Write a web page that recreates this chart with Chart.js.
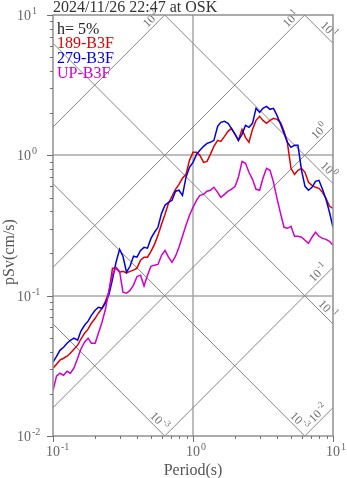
<!DOCTYPE html>
<html>
<head>
<meta charset="utf-8">
<script src="https://cdn.jsdelivr.net/npm/chart.js@4.4.0/dist/chart.umd.min.js"></script>
<style>
  html, body { margin: 0; padding: 0; background: #fff; }
  canvas { display: block; }
</style>
</head>
<body>
<canvas id="spectrumChart" width="347" height="478"></canvas>
<script>
// periods (s) and pseudo velocity response (cm/s), h = 5%
const periods = [0.1,0.106,0.112,0.119,0.126,0.133,0.141,0.15,0.158,0.168,0.178,0.188,0.2,0.211,0.224,0.237,0.251,0.266,0.282,0.299,
  0.316,0.335,0.355,0.376,0.398,0.422,0.447,0.473,0.501,0.531,0.562,0.596,0.631,0.668,0.708,0.75,0.794,0.841,0.891,0.944,
  1.0,1.06,1.12,1.19,1.26,1.33,1.41,1.5,1.58,1.68,1.78,1.88,2.0,2.11,2.24,2.37,2.51,2.66,2.82,2.99,
  3.16,3.35,3.55,3.76,3.98,4.22,4.47,4.73,5.01,5.31,5.62,5.96,6.31,6.68,7.08,7.5,7.94,8.41,8.91,9.44,10];

const sv189 = [0.0304,0.0325,0.0347,0.0358,0.0370,0.0389,0.0415,0.0444,0.0489,0.0540,
  0.0577,0.0636,0.0690,0.0750,0.0813,0.0912,0.106,0.157,0.157,0.147,
  0.149,0.145,0.149,0.152,0.157,0.179,0.188,0.188,0.207,0.232,
  0.269,0.323,0.380,0.455,0.511,0.573,0.621,0.686,0.732,0.921,
  1.050,1.050,1.000,0.891,0.906,1.016,1.159,1.279,1.258,1.366,
  1.482,1.557,1.411,1.279,1.531,1.343,1.238,1.531,1.775,1.896,
  1.775,1.690,1.775,1.834,1.805,1.718,1.482,1.218,0.808,0.732,
  0.782,0.808,0.757,0.642,0.611,0.592,0.582,0.545,0.494,0.433,0.419];

const sv279 = [0.0336,0.0370,0.0408,0.0429,0.0458,0.0481,0.0498,0.0481,0.0557,0.0615,
  0.0658,0.0724,0.0787,0.0826,0.0813,0.0883,0.102,0.131,0.173,0.214,
  0.191,0.147,0.162,0.191,0.188,0.210,0.221,0.218,0.256,0.283,
  0.307,0.386,0.441,0.462,0.478,0.555,0.564,0.519,0.697,0.821,
  0.891,1.016,1.086,1.159,1.218,1.238,1.279,1.609,1.718,1.746,
  1.690,1.557,1.411,1.279,1.411,1.636,1.583,1.690,2.162,2.024,
  2.162,2.234,2.127,2.162,1.927,1.663,1.434,1.238,1.140,1.178,
  1.178,0.782,0.601,0.564,0.592,0.653,0.664,0.573,0.486,0.393,0.307];

const svUP = [0.0212,0.0267,0.0280,0.0271,0.0289,0.0280,0.0304,0.0358,0.0415,0.0466,
  0.0498,0.0458,0.0458,0.0540,0.0647,0.0800,0.109,0.142,0.159,0.149,
  0.106,0.104,0.109,0.119,0.137,0.140,0.117,0.140,0.162,0.165,
  0.167,0.194,0.210,0.188,0.173,0.191,0.221,0.265,0.317,0.374,
  0.426,0.478,0.519,0.527,0.555,0.564,0.592,0.545,0.502,0.527,
  0.555,0.573,0.601,0.697,0.906,0.877,0.757,0.675,0.573,0.564,
  0.686,0.808,0.782,0.642,0.494,0.386,0.307,0.302,0.312,0.265,
  0.265,0.261,0.248,0.236,0.261,0.283,0.265,0.256,0.252,0.244,0.229];

const seriesNames = ["189-B3F", "279-B3F", "UP-B3F"];
const seriesColors = ["#e00000", "#0000e0", "#d000d0"];

// tripartite guide lines: constant acceleration (cm/s2) and displacement (cm)
const accelLines = [100, 10, 1, 0.1, 0.01];
const accelLabels = ["2", "1", "0", "-1", "-2"];
const dispLines = [10, 1, 0.1, 0.01, 0.001];
const dispLabels = ["1", "0", "-1", "-3", "-3"];

const xTickVals = [0.1, 1, 10];
const xTickExp = ["-1", "0", "1"];
const yTickVals = [0.01, 0.1, 1, 10];
const yTickExp = ["-2", "-1", "0", "1"];

const titleText = "2024/11/26 22:47 at OSK";
const dampText = "h= 5%";

const SERIF = '"Liberation Serif", "Times New Roman", serif';
const TWO_PI = 2 * Math.PI;

function pow10Label(ctx, exp, x, y, size, mode) {
  ctx.font = size + "px " + SERIF;
  const wb = ctx.measureText("10").width;
  const es = Math.round(size * 0.72);
  ctx.font = es + "px " + SERIF;
  const we = ctx.measureText(exp).width;
  let x0 = x;
  if (mode === "center") x0 = x - wb / 2;
  if (mode === "right") x0 = x - wb - we - 1;
  ctx.textAlign = "left";
  ctx.font = size + "px " + SERIF;
  ctx.fillText("10", x0, y);
  ctx.font = es + "px " + SERIF;
  ctx.fillText(exp, x0 + wb + 1, y - size * 0.42);
}

const tripartite = {
  id: "tripartite",
  beforeDatasetsDraw(chart) {
    const { ctx, chartArea: a, scales: { x, y } } = chart;
    ctx.save();
    ctx.beginPath();
    ctx.rect(a.left, a.top, a.right - a.left, a.bottom - a.top);
    ctx.clip();

    // grid at decades
    ctx.strokeStyle = "#a8a8a8";
    ctx.lineWidth = 1.5;
    ctx.beginPath();
    ctx.moveTo(Math.round(x.getPixelForValue(1)), a.top);
    ctx.lineTo(Math.round(x.getPixelForValue(1)), a.bottom);
    [1, 0.1].forEach(v => {
      const py = Math.round(y.getPixelForValue(v));
      ctx.moveTo(a.left, py);
      ctx.lineTo(a.right, py);
    });
    ctx.stroke();

    // diagonal lines
    ctx.strokeStyle = "#858585";
    ctx.lineWidth = 1;
    ctx.beginPath();
    accelLines.forEach(sa => {
      ctx.moveTo(x.getPixelForValue(0.1), y.getPixelForValue(sa * 0.1 / TWO_PI));
      ctx.lineTo(x.getPixelForValue(10), y.getPixelForValue(sa * 10 / TWO_PI));
    });
    dispLines.forEach(sd => {
      ctx.moveTo(x.getPixelForValue(0.1), y.getPixelForValue(TWO_PI * sd / 0.1));
      ctx.lineTo(x.getPixelForValue(10), y.getPixelForValue(TWO_PI * sd / 10));
    });
    ctx.stroke();
    ctx.restore();

    // labels of diagonal lines, near where each line leaves the frame
    ctx.save();
    ctx.fillStyle = "#707070";
    ctx.textBaseline = "alphabetic";
    accelLines.forEach((sa, i) => {
      const tEnd = Math.min(10, TWO_PI * 10 / sa);
      const ex = x.getPixelForValue(tEnd);
      const ey = y.getPixelForValue(sa * tEnd / TWO_PI);
      ctx.save();
      ctx.translate(ex, ey);
      ctx.rotate(-Math.PI / 4);
      pow10Label(ctx, accelLabels[i], -4, -3, 12, "right");
      ctx.restore();
    });
    dispLines.forEach((sd, i) => {
      const tEnd = Math.min(10, TWO_PI * sd / 0.01);
      const ex = x.getPixelForValue(tEnd);
      const ey = y.getPixelForValue(TWO_PI * sd / tEnd);
      ctx.save();
      ctx.translate(ex, ey);
      ctx.rotate(Math.PI / 4);
      pow10Label(ctx, dispLabels[i], -4, -3, 12, "right");
      ctx.restore();
    });
    ctx.restore();
  },
  afterDatasetsDraw(chart) {
    const { ctx, chartArea: a, scales: { x, y } } = chart;
    ctx.save();
    // frame
    ctx.strokeStyle = "#909090";
    ctx.lineWidth = 1.5;
    ctx.strokeRect(a.left, a.top, a.right - a.left, a.bottom - a.top);

    // ticks (outside)
    ctx.lineWidth = 1;
    ctx.strokeStyle = "#707070";
    ctx.beginPath();
    [-2, -1, 0].forEach(d => {
      for (let m = 1; m <= 9; m++) {
        const py = Math.round(y.getPixelForValue(m * Math.pow(10, d))) + 0.5;
        ctx.moveTo(a.left - (m === 1 ? 6 : 3), py);
        ctx.lineTo(a.left, py);
      }
    });
    [-1, 0].forEach(d => {
      for (let m = 1; m <= 9; m++) {
        const px = Math.round(x.getPixelForValue(m * Math.pow(10, d))) + 0.5;
        ctx.moveTo(px, a.bottom);
        ctx.lineTo(px, a.bottom + (m === 1 ? 6 : 3));
      }
    });
    ctx.moveTo(a.left - 6, a.top + 0.5); ctx.lineTo(a.left, a.top + 0.5);
    ctx.moveTo(a.right + 0.5, a.bottom); ctx.lineTo(a.right + 0.5, a.bottom + 6);
    ctx.stroke();

    // tick labels
    ctx.fillStyle = "#666";
    ctx.textBaseline = "alphabetic";
    yTickVals.forEach((v, i) => {
      pow10Label(ctx, yTickExp[i], 17, y.getPixelForValue(v) + 5, 14, "left");
    });
    xTickVals.forEach((v, i) => {
      pow10Label(ctx, xTickExp[i], x.getPixelForValue(v), a.bottom + 20, 14, "center");
    });

    // axis titles
    ctx.font = "16px " + SERIF;
    ctx.fillStyle = "#555";
    ctx.textAlign = "center";
    ctx.fillText("Period(s)", (a.left + a.right) / 2, 474.5);
    ctx.save();
    ctx.translate(14, 252);
    ctx.rotate(-Math.PI / 2);
    ctx.fillText("pSv(cm/s)", 0, 0);
    ctx.restore();

    // title
    ctx.textAlign = "left";
    ctx.fillStyle = "#333";
    ctx.fillText(titleText, a.left, 11.5);

    // legend text
    ctx.fillStyle = "#222";
    ctx.fillText(dampText, a.left + 4, 33.5);
    seriesNames.forEach((n, i) => {
      ctx.fillStyle = seriesColors[i];
      ctx.fillText(n, a.left + 4, 48.3 + i * 14.7);
    });
    ctx.restore();
  }
};

const ctx = document.getElementById("spectrumChart").getContext("2d");
const seriesValues = [sv189, sv279, svUP];

new Chart(ctx, {
  type: "line",
  data: {
    datasets: seriesNames.map((name, i) => ({
      label: name,
      data: periods.map((t, k) => ({ x: t, y: seriesValues[i][k] })),
      borderColor: seriesColors[i],
      borderWidth: 1.5,
      pointRadius: 0,
      tension: 0,
      fill: false,
      order: 2 - i
    }))
  },
  options: {
    responsive: false,
    animation: false,
    layout: { padding: { left: 53, right: 14, top: 15, bottom: 42 } },
    plugins: { legend: { display: false }, tooltip: { enabled: false } },
    scales: {
      x: {
        type: "logarithmic", min: 0.1, max: 10,
        ticks: { display: false }, grid: { display: false }, border: { display: false },
        afterFit(s) { s.height = 0; }
      },
      y: {
        type: "logarithmic", min: 0.01, max: 10,
        ticks: { display: false }, grid: { display: false }, border: { display: false },
        afterFit(s) { s.width = 0; }
      }
    }
  },
  plugins: [tripartite]
});
</script>
</body>
</html>
